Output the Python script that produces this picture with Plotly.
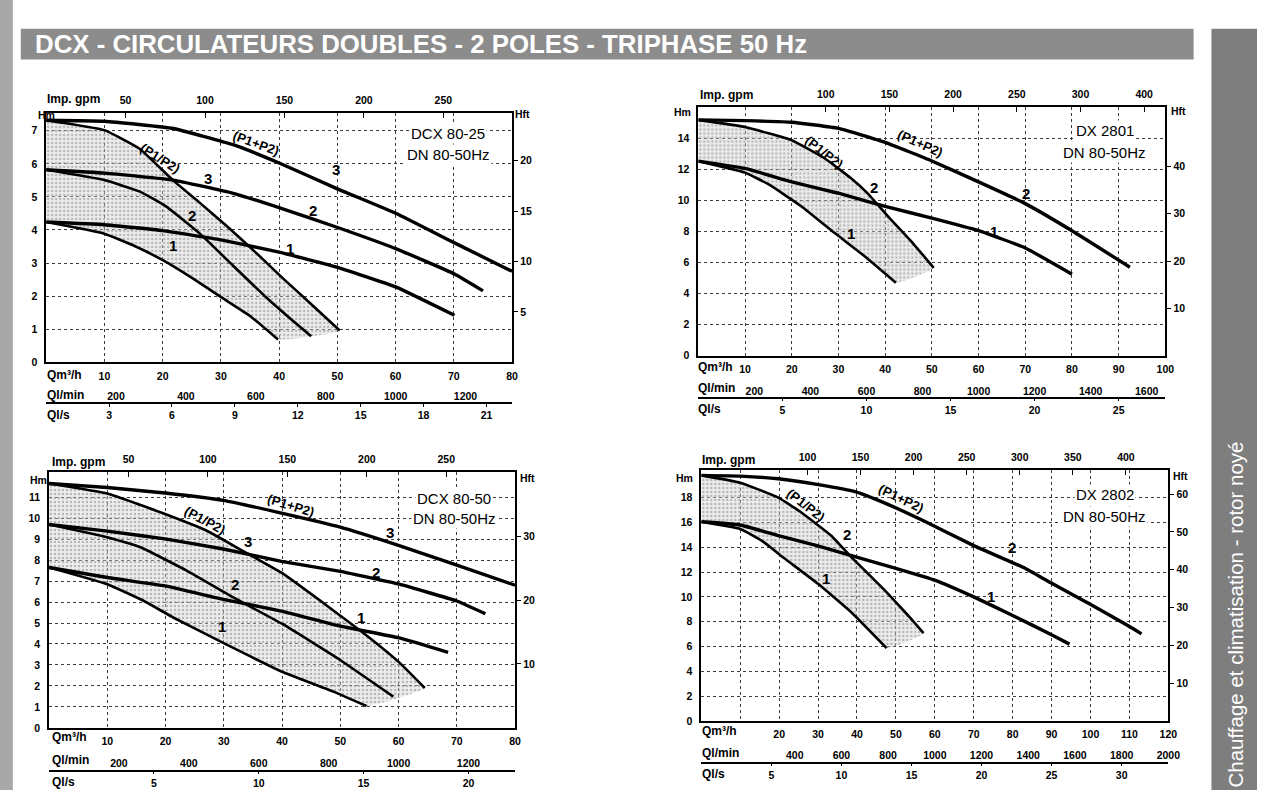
import plotly.graph_objects as go

W, H = 1269, 796

GPM_TO_M3H = 4.54609 * 60 / 1000      # imperial gallon per minute -> m3/h
LMIN_TO_M3H = 60 / 1000               # l/min -> m3/h
LS_TO_M3H = 3600 / 1000               # l/s -> m3/h
M_TO_FT = 1 / 0.3048

FONT = "Liberation Sans, Arial, Helvetica, sans-serif"

# ---------------- DCX 80-25 ----------------
dcx8025_sum3_q = [0, 10, 21.8, 32.1, 40.1, 49.8, 60.1, 70.1, 80]
dcx8025_sum3_h = [7.32, 7.29, 7.07, 6.58, 6.02, 5.26, 4.50, 3.61, 2.75]
dcx8025_sum2_q = [0, 10, 21.8, 32.1, 40.1, 49.8, 60.1, 70.1, 75]
dcx8025_sum2_h = [5.82, 5.72, 5.51, 5.11, 4.67, 4.09, 3.43, 2.67, 2.16]
dcx8025_sum1_q = [0, 10, 20, 30, 40, 50, 60, 70.1]
dcx8025_sum1_h = [4.24, 4.16, 3.98, 3.70, 3.33, 2.87, 2.28, 1.42]
dcx8025_one3_q = [0, 10, 16.1, 21.8, 26.4, 31.0, 36.1, 40.7, 45.8, 50.4]
dcx8025_one3_h = [7.32, 7.02, 6.45, 5.50, 4.82, 4.12, 3.30, 2.53, 1.71, 0.96]
dcx8025_one2_q = [0, 10, 16.1, 20.7, 26.4, 32.1, 37.8, 42.4, 45.5]
dcx8025_one2_h = [5.82, 5.51, 5.16, 4.70, 3.89, 2.92, 1.96, 1.25, 0.79]
dcx8025_one1_q = [0, 10, 15, 20.1, 25.3, 30.1, 35, 39.8]
dcx8025_one1_h = [4.24, 3.89, 3.53, 3.08, 2.52, 1.96, 1.40, 0.69]
dcx8025_hm_ticks = [0, 1, 2, 3, 4, 5, 6, 7]
dcx8025_hft_ticks = [5, 10, 15, 20]
dcx8025_q_ticks = [10, 20, 30, 40, 50, 60, 70, 80]
dcx8025_gpm_ticks = [50, 100, 150, 200, 250]
dcx8025_gpm_text = ["50", "100", "150", "200", "250"]
dcx8025_lmin_ticks = [200, 400, 600, 800, 1000, 1200]
dcx8025_ls_ticks = [3, 6, 9, 12, 15, 18, 21]

# ---------------- DX 2801 ----------------
dx2801_sum2_q = [0, 10, 20, 30, 40, 50, 60, 70, 80, 92.4]
dx2801_sum2_h = [15.2, 15.15, 15.05, 14.65, 13.75, 12.55, 11.2, 9.8, 8.05, 5.7]
dx2801_sum1_q = [0, 10, 20, 30, 40, 50, 60, 70, 80]
dx2801_sum1_h = [12.54, 12.07, 11.2, 10.47, 9.62, 8.87, 8.06, 6.94, 5.25]
dx2801_one2_q = [0, 10, 20, 27.1, 32.7, 36.3, 40.4, 45.5, 50.4]
dx2801_one2_h = [15.2, 14.74, 13.89, 12.71, 11.43, 10.45, 9.05, 7.4, 5.66]
dx2801_one1_q = [0, 10, 15, 22.1, 29.2, 35.6, 42.3]
dx2801_one1_h = [12.54, 11.8, 11.05, 9.62, 7.9, 6.41, 4.70]
dx2801_hm_ticks = [0, 2, 4, 6, 8, 10, 12, 14]
dx2801_hft_ticks = [10, 20, 30, 40]
dx2801_q_ticks = [10, 20, 30, 40, 50, 60, 70, 80, 90, 100]
dx2801_gpm_ticks = [100, 150, 200, 250, 300, 350]
dx2801_gpm_text = ["100", "150", "200", "250", "300", "400"]
dx2801_lmin_ticks = [200, 400, 600, 800, 1000, 1200, 1400, 1600]
dx2801_ls_ticks = [5, 10, 15, 20, 25]

# ---------------- DCX 80-50 ----------------
dcx8050_sum3_q = [0, 10, 19.9, 29.9, 39.9, 50.0, 60.1, 70.0, 80]
dcx8050_sum3_h = [11.65, 11.46, 11.20, 10.85, 10.24, 9.57, 8.69, 7.76, 6.8]
dcx8050_sum2_q = [0, 10, 19.9, 29.9, 39.9, 50.0, 60.1, 70.0, 74.9]
dcx8050_sum2_h = [9.70, 9.38, 9.01, 8.53, 7.94, 7.46, 6.85, 6.05, 5.44]
dcx8050_sum1_q = [0, 10, 19.9, 29.9, 39.9, 50.0, 60.1, 68.5]
dcx8050_sum1_h = [7.65, 7.17, 6.77, 6.13, 5.57, 4.85, 4.29, 3.60]
dcx8050_one3_q = [0, 10, 19.9, 27.1, 33.5, 39.9, 48.8, 55, 60.2, 64.5]
dcx8050_one3_h = [11.65, 11.17, 10.2, 9.4, 8.4, 7.4, 5.6, 4.3, 3.1, 1.9]
dcx8050_one2_q = [0, 10, 15.7, 23.7, 31.7, 40.2, 49.9, 59.1]
dcx8050_one2_h = [9.70, 9.09, 8.61, 7.49, 6.21, 4.93, 3.25, 1.49]
dcx8050_one1_q = [0, 10, 16.3, 21.4, 29.9, 39.9, 48.8, 54.5]
dcx8050_one1_h = [7.65, 6.85, 6.05, 5.25, 4.05, 2.69, 1.73, 1.04]
dcx8050_hm_ticks = [0, 1, 2, 3, 4, 5, 6, 7, 8, 9, 10, 11]
dcx8050_hft_ticks = [10, 20, 30]
dcx8050_q_ticks = [10, 20, 30, 40, 50, 60, 70, 80]
dcx8050_gpm_ticks = [50, 100, 150, 200, 250]
dcx8050_gpm_text = ["50", "100", "150", "200", "250"]
dcx8050_lmin_ticks = [200, 400, 600, 800, 1000, 1200]
dcx8050_ls_ticks = [5, 10, 15, 20]

# ---------------- DX 2802 ----------------
dx2802_sum2_q = [0, 10, 19.8, 29.7, 39.9, 46.9, 57.1, 70.0, 83.4, 89.7, 99.7, 109.8, 113.1]
dx2802_sum2_h = [19.79, 19.73, 19.52, 19.07, 18.45, 17.6, 16.13, 14.13, 12.27, 11.15, 9.45, 7.65, 7.02]
dx2802_sum1_q = [0, 10, 19.8, 29.7, 39.9, 50.2, 60.1, 70.0, 80.0, 90.1, 94.6]
dx2802_sum1_h = [16.05, 15.79, 14.93, 14.13, 13.2, 12.27, 11.33, 10.0, 8.5, 6.93, 6.19]
dx2802_one2_q = [0, 10, 19.8, 25.7, 33.4, 38.4, 46.9, 50.2, 53.7, 57.1]
dx2802_one2_h = [19.79, 19.2, 18.0, 16.8, 14.93, 13.25, 10.6, 9.5, 8.3, 7.07]
dx2802_one1_q = [0, 10, 15.5, 21.5, 29.9, 38.4, 47.6]
dx2802_one1_h = [16.05, 15.47, 14.53, 13.07, 11.07, 8.8, 5.87]
dx2802_hm_ticks = [0, 2, 4, 6, 8, 10, 12, 14, 16, 18]
dx2802_hft_ticks = [10, 20, 30, 40, 50, 60]
dx2802_q_ticks = [10, 20, 30, 40, 50, 60, 70, 80, 90, 100, 110, 120]
dx2802_gpm_ticks = [100, 150, 200, 250, 300, 350, 400]
dx2802_gpm_text = ["100", "150", "200", "250", "300", "350", "400"]
dx2802_lmin_ticks = [400, 600, 800, 1000, 1200, 1400, 1600, 1800, 2000]
dx2802_ls_ticks = [5, 10, 15, 20, 25, 30]

TITLE = "DCX - CIRCULATEURS DOUBLES - 2 POLES - TRIPHASE 50 Hz"
SIDE_TEXT = "Chauffage et climatisation - rotor noyé"


def fx(px):
    return px / W


def fy(py):
    return 1 - py / H


panels = [
    dict(frame=(46.6, 517.0, 113.8, 365.0), qmax=80, hmax=7.54, sep=406.0,
         sums=[(dcx8025_sum3_q, dcx8025_sum3_h), (dcx8025_sum2_q, dcx8025_sum2_h), (dcx8025_sum1_q, dcx8025_sum1_h)],
         ones=[(dcx8025_one3_q, dcx8025_one3_h), (dcx8025_one2_q, dcx8025_one2_h), (dcx8025_one1_q, dcx8025_one1_h)],
         hm=dcx8025_hm_ticks, hft=dcx8025_hft_ticks, q=dcx8025_q_ticks, qtext=[str(v) for v in dcx8025_q_ticks],
         gpm=dcx8025_gpm_ticks, gpmtext=dcx8025_gpm_text, lmin=dcx8025_lmin_ticks, ls=dcx8025_ls_ticks,
         model=("DCX 80-25", 69.0, 6.93, 6.27),
         sum_lbl=[("3", 49.8, 5.84), ("2", 45.8, 4.60), ("1", 41.9, 3.43)],
         one_lbl=[("3", 27.8, 5.56), ("2", 25.0, 4.45), ("1", 21.8, 3.53)],
         plus_lbl=(36.1, 6.62, 20), slash_lbl=(19.6, 6.16, 32),
         rows=dict(gpm=(45.6, 99.3), qm=(45.6, 377.5), lmin=(45.6, 397.8), ls=(45.6, 418.0),
                   hm=(47.0, 116.0), hft=(527.0, 115.0))),
    dict(frame=(705.0, 1176.5, 108.3, 358.3), qmax=100, hmax=16.0, sep=400.7,
         sums=[(dx2801_sum2_q, dx2801_sum2_h), (dx2801_sum1_q, dx2801_sum1_h)],
         ones=[(dx2801_one2_q, dx2801_one2_h), (dx2801_one1_q, dx2801_one1_h)],
         hm=dx2801_hm_ticks, hft=dx2801_hft_ticks, q=dx2801_q_ticks, qtext=[str(v) for v in dx2801_q_ticks],
         gpm=dx2801_gpm_ticks, gpmtext=dx2801_gpm_text, lmin=dx2801_lmin_ticks, ls=dx2801_ls_ticks,
         model=("DX 2801", 87.0, 14.5, 13.1),
         sum_lbl=[("2", 70.1, 10.47), ("1", 63.2, 8.01)],
         one_lbl=[("2", 37.6, 10.83), ("1", 32.7, 7.9)],
         plus_lbl=(47.5, 13.65, 24), slash_lbl=(27.0, 13.1, 38),
         rows=dict(gpm=(705.0, 95.7), qm=(703.0, 370.0), lmin=(703.0, 390.7), ls=(703.0, 411.7),
                   hm=(689.0, 113.0), hft=(1190.0, 112.0))),
    dict(frame=(49.5, 520.0, 475.6, 733.4), qmax=80, hmax=12.2, sep=776.4,
         sums=[(dcx8050_sum3_q, dcx8050_sum3_h), (dcx8050_sum2_q, dcx8050_sum2_h), (dcx8050_sum1_q, dcx8050_sum1_h)],
         ones=[(dcx8050_one3_q, dcx8050_one3_h), (dcx8050_one2_q, dcx8050_one2_h), (dcx8050_one1_q, dcx8050_one1_h)],
         hm=dcx8050_hm_ticks, hft=dcx8050_hft_ticks, q=dcx8050_q_ticks, qtext=[str(v) for v in dcx8050_q_ticks],
         gpm=dcx8050_gpm_ticks, gpmtext=dcx8050_gpm_text, lmin=dcx8050_lmin_ticks, ls=dcx8050_ls_ticks,
         model=("DCX 80-50", 69.6, 10.93, 9.97),
         sum_lbl=[("3", 58.5, 9.3), ("2", 56.2, 7.41), ("1", 53.6, 5.25)],
         one_lbl=[("3", 34.1, 8.9), ("2", 32.0, 6.85), ("1", 29.7, 4.85)],
         plus_lbl=(41.5, 10.62, 17), slash_lbl=(26.8, 9.9, 28),
         rows=dict(gpm=(50.7, 465.4), qm=(50.7, 742.6), lmin=(50.7, 766.2), ls=(50.7, 788.2),
                   hm=(39.0, 484.0), hft=(533.0, 481.7))),
    dict(frame=(708.0, 1179.5, 473.5, 726.4), qmax=120, hmax=20.23, sep=768.3,
         sums=[(dx2802_sum2_q, dx2802_sum2_h), (dx2802_sum1_q, dx2802_sum1_h)],
         ones=[(dx2802_one2_q, dx2802_one2_h), (dx2802_one1_q, dx2802_one1_h)],
         hm=dx2802_hm_ticks, hft=dx2802_hft_ticks, q=dx2802_q_ticks,
         qtext=[""] + [str(v) for v in dx2802_q_ticks[1:]],
         gpm=dx2802_gpm_ticks, gpmtext=dx2802_gpm_text, lmin=dx2802_lmin_ticks, ls=dx2802_ls_ticks,
         model=("DX 2802", 103.7, 18.27, 16.5),
         sum_lbl=[("2", 79.9, 14.0), ("1", 74.4, 10.05)],
         one_lbl=[("2", 37.4, 14.99), ("1", 32.1, 11.47)],
         plus_lbl=(51.3, 17.9, 26), slash_lbl=(27.0, 17.4, 38),
         rows=dict(gpm=(706.7, 463.3), qm=(706.7, 736.7), lmin=(706.7, 759.0), ls=(706.7, 780.0),
                   hm=(691.0, 481.7), hft=(1191.7, 479.3))),
]


def aid(kind, n):
    return kind if n == 1 else f"{kind}{n}"


def akey(kind, n):
    return f"{kind}axis" if n == 1 else f"{kind}axis{n}"


num_font = dict(family=FONT, size=10.5, color="black", weight="bold")
row_font = dict(family=FONT, size=12, color="black", weight="bold")
grid = dict(showgrid=True, gridcolor="#3c3c3c", gridwidth=1, griddash="dot")
frame_line = dict(showline=True, linecolor="black", linewidth=1.6, mirror=True)
SMOOTH = 0.35

fig = go.Figure()
layout = {}
annotations = []
shapes = []

for i, p in enumerate(panels):
    xm, xt, xl, xs = 4 * i + 1, 4 * i + 2, 4 * i + 3, 4 * i + 4
    ym, yr = 2 * i + 1, 2 * i + 2
    l, r, t, b = p["frame"]
    qmax, hmax = p["qmax"], p["hmax"]
    X, Y = aid("x", xm), aid("y", ym)

    layout[akey("x", xm)] = dict(
        domain=[fx(l), fx(r)], range=[0, qmax], anchor=Y,
        tickmode="array", tickvals=p["q"], ticktext=p["qtext"], ticks="", ticklabelstandoff=3,
        tickfont=num_font, zeroline=False, fixedrange=True, **grid, **frame_line)
    layout[akey("y", ym)] = dict(
        domain=[fy(b), fy(t)], range=[0, hmax], anchor=X,
        tickmode="array", tickvals=p["hm"], ticks="", ticklabelstandoff=5,
        tickfont=num_font, zeroline=False, fixedrange=True, **grid, **frame_line)
    # imperial gpm scale along the top edge
    layout[akey("x", xt)] = dict(
        overlaying=X, anchor=Y, side="top", range=[0, qmax],
        tickmode="array", tickvals=[g * GPM_TO_M3H for g in p["gpm"]], ticktext=p["gpmtext"],
        ticks="inside", ticklen=5, tickcolor="black", ticklabelstandoff=6,
        tickfont=num_font, showgrid=False, zeroline=False, showline=False, fixedrange=True)
    # head in feet on the right edge
    layout[akey("y", yr)] = dict(
        overlaying=Y, anchor=X, side="right", range=[0, hmax * M_TO_FT],
        tickmode="array", tickvals=p["hft"], ticks="outside", ticklen=4, tickcolor="black",
        tickfont=num_font, showgrid=False, zeroline=False,
        showline=True, linecolor="black", linewidth=2, fixedrange=True)
    # l/min above the separator rule, l/s below it
    layout[akey("x", xl)] = dict(
        overlaying=X, anchor="free", position=fy(p["sep"]), side="top", range=[0, qmax],
        tickmode="array", tickvals=[v * LMIN_TO_M3H for v in p["lmin"]], ticktext=[str(v) for v in p["lmin"]],
        ticks="", ticklabelstandoff=1, tickfont=num_font,
        showgrid=False, zeroline=False, showline=False, fixedrange=True)
    layout[akey("x", xs)] = dict(
        overlaying=X, anchor="free", position=fy(p["sep"]), side="bottom", range=[0, qmax],
        tickmode="array", tickvals=[v * LS_TO_M3H for v in p["ls"]], ticktext=[str(v) for v in p["ls"]],
        ticks="outside", ticklen=3, tickcolor="black", tickfont=num_font,
        showgrid=False, zeroline=False, showline=True, linecolor="black", linewidth=1.5, fixedrange=True)

    # keep every secondary scale attached to a subplot
    for xa, ya in ((aid("x", xt), Y), (X, aid("y", yr)), (aid("x", xl), Y), (aid("x", xs), Y)):
        fig.add_trace(go.Scatter(x=[0], y=[0], xaxis=xa, yaxis=ya, mode="markers",
                                 marker=dict(opacity=0), hoverinfo="skip", showlegend=False))

    # operating field of a single pump, between its highest and lowest speed curves
    top_q, top_h = p["ones"][0]
    bot_q, bot_h = p["ones"][-1]
    fig.add_trace(go.Scatter(
        x=list(top_q) + list(bot_q)[::-1], y=list(top_h) + list(bot_h)[::-1],
        xaxis=X, yaxis=Y, mode="lines", fill="toself",
        line=dict(width=0, shape="spline", smoothing=SMOOTH),
        fillcolor="rgba(205,205,205,0.5)",
        fillpattern=dict(shape=".", fgcolor="#808080", bgcolor="rgba(210,210,210,0.4)", size=4, solidity=0.3),
        hoverinfo="skip", showlegend=False))

    for q, h in p["ones"]:
        fig.add_trace(go.Scatter(x=q, y=h, xaxis=X, yaxis=Y, mode="lines",
                                 line=dict(color="black", width=2.6, shape="spline", smoothing=SMOOTH),
                                 hoverinfo="skip", showlegend=False))
    for q, h in p["sums"]:
        fig.add_trace(go.Scatter(x=q, y=h, xaxis=X, yaxis=Y, mode="lines",
                                 line=dict(color="black", width=3.4, shape="spline", smoothing=SMOOTH),
                                 hoverinfo="skip", showlegend=False))

    # curve annotations
    for txt, qx, hy in p["sum_lbl"] + p["one_lbl"]:
        annotations.append(dict(text=txt, x=qx, y=hy, xref=X, yref=Y, showarrow=False,
                                font=dict(family=FONT, size=15, color="black", weight="bold")))
    qx, hy, ang = p["plus_lbl"]
    annotations.append(dict(text="(P1+P2)", x=qx, y=hy, xref=X, yref=Y, showarrow=False, textangle=ang,
                            font=dict(family=FONT, size=13, color="black", weight="bold")))
    qx, hy, ang = p["slash_lbl"]
    annotations.append(dict(text="(P1/P2)", x=qx, y=hy, xref=X, yref=Y, showarrow=False, textangle=ang,
                            font=dict(family=FONT, size=13, color="black", weight="bold")))
    name, mq, mh1, mh2 = p["model"]
    for txt, hy in ((name, mh1), ("DN 80-50Hz", mh2)):
        annotations.append(dict(text=txt, x=mq, y=hy, xref=X, yref=Y, showarrow=False,
                                bgcolor="white", borderpad=1,
                                font=dict(family=FONT, size=15, color="black")))

    # scale names
    rows = p["rows"]
    for key, txt in (("gpm", "Imp. gpm"), ("qm", "Qm³/h"), ("lmin", "Ql/min"), ("ls", "Ql/s")):
        px, py = rows[key]
        annotations.append(dict(text=txt, x=fx(px), y=fy(py), xref="paper", yref="paper",
                                xanchor="left", yanchor="middle", showarrow=False, font=row_font))
    for key, txt in (("hm", "Hm"), ("hft", "Hft")):
        px, py = rows[key]
        annotations.append(dict(text=txt, x=fx(px), y=fy(py), xref="paper", yref="paper",
                                xanchor="center", yanchor="middle", showarrow=False,
                                font=dict(family=FONT, size=10.5, color="black", weight="bold")))

# page furniture: left edge band, title bar, side tab
shapes.append(dict(type="rect", xref="paper", yref="paper", x0=0, x1=fx(13), y0=0, y1=1,
                   fillcolor="#a8a8a8", line=dict(width=0), layer="below"))
shapes.append(dict(type="rect", xref="paper", yref="paper", x0=fx(21), x1=fx(1205), y0=fy(60), y1=fy(29),
                   fillcolor="#8c8c8c", line=dict(width=0), layer="below"))
shapes.append(dict(type="rect", xref="paper", yref="paper", x0=fx(1223), x1=1, y0=0, y1=fy(29),
                   fillcolor="#7e7e7e", line=dict(width=0), layer="below"))
annotations.append(dict(text=TITLE, x=fx(33), y=fy(44.5), xref="paper", yref="paper",
                        xanchor="left", yanchor="middle", showarrow=False,
                        font=dict(family=FONT, size=25.8, color="white", weight="bold")))
annotations.append(dict(text=SIDE_TEXT, x=fx(1247), y=fy(619), xref="paper", yref="paper",
                        xanchor="center", yanchor="middle", showarrow=False, textangle=-90,
                        font=dict(family=FONT, size=20.5, color="white")))

fig.update_layout(
    width=W, height=H, margin=dict(l=0, r=0, t=0, b=0),
    paper_bgcolor="white", plot_bgcolor="white", showlegend=False,
    annotations=annotations, shapes=shapes, **layout)

fig.write_html("out.html")
